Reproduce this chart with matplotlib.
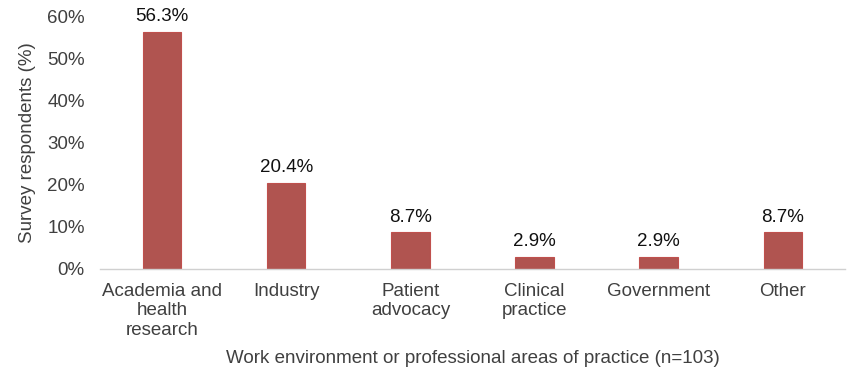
import numpy as np
import matplotlib
matplotlib.use('Agg')
import matplotlib.pyplot as plt
from matplotlib.ticker import FuncFormatter

categories = ['Academia and\nhealth\nresearch', 'Industry', 'Patient\nadvocacy',
              'Clinical\npractice', 'Government', 'Other']
values = [56.3, 20.4, 8.7, 2.9, 2.9, 8.7]
yticks = [0, 10, 20, 30, 40, 50, 60]

plt.rcParams['font.family'] = ['Liberation Sans', 'DejaVu Sans']
text_color = '#404040'
fs = 13.5

fig = plt.figure(figsize=(8.64, 3.84), dpi=100)
ax = fig.add_axes([0.1157, 0.2995, 0.8623, 0.6588])

x = np.arange(len(categories))
bars = ax.bar(x, values, width=0.31, color='#b05450', edgecolor='#c0504d', linewidth=0.8)

for xi, v in zip(x, values):
    ax.text(xi, v + 1.6, '{:.1f}%'.format(v), ha='center', va='bottom',
            fontsize=fs, color='#111111')

ax.set_xlim(-0.5, len(categories) - 0.5)
ax.set_ylim(0, 60)
ax.set_yticks(yticks)
ax.yaxis.set_major_formatter(FuncFormatter(lambda v, p: '{:.0f}%'.format(v)))
ax.set_xticks(x)
ax.set_xticklabels(categories, fontsize=fs, color=text_color, linespacing=1.2)
ax.tick_params(axis='y', labelsize=fs, labelcolor=text_color, length=0, pad=11)
ax.tick_params(axis='x', length=0, pad=10)

for s in ['top', 'right', 'left']:
    ax.spines[s].set_visible(False)
ax.spines['bottom'].set_color('#d0d0d0')
ax.spines['bottom'].set_linewidth(1)

ax.set_ylabel('Survey respondents (%)', fontsize=fs, color=text_color, labelpad=8)
ax.set_xlabel('Work environment or professional areas of practice (n=103)',
              fontsize=fs, color=text_color, labelpad=8)

fig.savefig('out.png', dpi=100)
